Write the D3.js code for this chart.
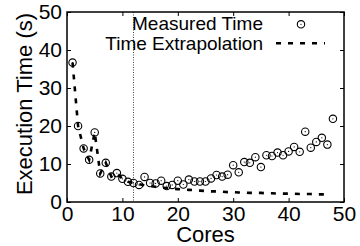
<!DOCTYPE html>
<html><head><meta charset="utf-8">
<script src="https://cdn.jsdelivr.net/npm/d3@7"></script>
<style>
html,body{margin:0;padding:0;background:#fff;}
svg{display:block;font-family:"Liberation Sans",Arial,sans-serif;}
</style></head>
<body>
<svg id="chart" width="360" height="246"></svg>
<script>
const measuredCores = d3.range(1, 49);
const measuredTime = [36.7,20.0,14.1,11.1,18.3,7.5,10.3,6.7,7.6,6.1,5.3,5.0,
  4.5,6.6,5.0,4.9,5.6,4.2,4.5,5.6,4.6,5.9,5.4,5.4,5.4,6.2,7.1,6.7,7.2,9.7,
  7.8,10.5,10.3,11.8,9.2,12.3,12.1,13.0,12.3,13.3,14.5,13.2,18.5,14.3,15.8,16.9,15.1,21.9];
const extrapCores = d3.range(1, 48);
const extrapTime = [36.7,20.0,14.1,11.1,18.3,7.5,10.3,6.7,7.6,6.1,5.3,5.0,
  4.7,4.4,4.2,4.0,3.8,3.7,3.5,3.4,3.3,3.2,3.1,3.0,2.9,2.8,2.8,2.7,2.6,2.6,
  2.5,2.5,2.4,2.4,2.4,2.3,2.3,2.2,2.2,2.2,2.2,2.1,2.1,2.1,2.0,2.0,2.0];
const xTicks = [0,10,20,30,40,50];
const yTicks = [0,10,20,30,40,50];
const markerCore = 12;

const L = 67, R = 344, T = 12, B = 202;
const svg = d3.select("#chart");
const x = d3.scaleLinear().domain([0,50]).range([L,R]);
const y = d3.scaleLinear().domain([0,50]).range([B,T]);

// vertical dotted marker
svg.append("line").attr("x1", x(markerCore)).attr("x2", x(markerCore))
  .attr("y1", T).attr("y2", B).attr("stroke", "#444").attr("stroke-width", 1)
  .attr("stroke-dasharray", "1,1.5");

// extrapolation dashed line
svg.append("path")
  .datum(extrapCores.map((c,i)=>[c, extrapTime[i]]))
  .attr("fill","none").attr("stroke","#000").attr("stroke-width",2.6)
  .attr("stroke-dasharray","5,7")
  .attr("d", d3.line().x(d=>x(d[0])).y(d=>y(d[1])));

// measured points
const pts = svg.append("g");
measuredCores.forEach((c,i)=>{
  pts.append("circle").attr("cx", x(c)).attr("cy", y(measuredTime[i])).attr("r", 3.7)
    .attr("fill","none").attr("stroke","#000").attr("stroke-width",1.1);
  pts.append("circle").attr("cx", x(c)).attr("cy", y(measuredTime[i])).attr("r", 0.6)
    .attr("fill","#000");
});

// axes
const fs = "21px";
const gx = svg.append("g").attr("transform",`translate(0,${B})`)
  .call(d3.axisBottom(x).tickValues(xTicks).tickSize(-4).tickPadding(4));
const gxt = svg.append("g").attr("transform",`translate(0,${T})`)
  .call(d3.axisTop(x).tickValues(xTicks).tickSize(-4).tickFormat(""));
const gy = svg.append("g").attr("transform",`translate(${L},0)`)
  .call(d3.axisLeft(y).tickValues(yTicks).tickSize(-4).tickPadding(5));
const gyr = svg.append("g").attr("transform",`translate(${R},0)`)
  .call(d3.axisRight(y).tickValues(yTicks).tickSize(-4).tickFormat(""));
[gx,gxt,gy,gyr].forEach(g=>{
  g.select(".domain").remove();
  g.selectAll(".tick line").attr("stroke","#000").attr("stroke-width",1);
  g.selectAll("text").attr("font-size",fs).attr("fill","#000")
    .attr("font-family",'"Liberation Sans",Arial,sans-serif');
});

// frame
svg.append("rect").attr("x",L).attr("y",T).attr("width",R-L).attr("height",B-T)
  .attr("fill","none").attr("stroke","#000").attr("stroke-width",1.5);

// axis titles
svg.append("text").attr("x",(L+R)/2).attr("y",242).attr("text-anchor","middle")
  .attr("font-size","22px").text("Cores");
svg.append("text").attr("transform",`translate(31.5,${(T+B)/2 - 3}) rotate(-90)`)
  .attr("text-anchor","middle").attr("font-size","22px").text("Execution Time (s)");

// legend
svg.append("text").attr("x",263).attr("y",30).attr("text-anchor","end")
  .attr("font-size","19px").text("Measured Time");
svg.append("circle").attr("cx",301).attr("cy",24.3).attr("r",3.7)
  .attr("fill","none").attr("stroke","#000").attr("stroke-width",1.1);
svg.append("circle").attr("cx",301).attr("cy",24.3).attr("r",0.6).attr("fill","#000");
svg.append("text").attr("x",263).attr("y",50).attr("text-anchor","end")
  .attr("font-size","19px").text("Time Extrapolation");
svg.append("line").attr("x1",276).attr("x2",325).attr("y1",43.3).attr("y2",43.3)
  .attr("stroke","#000").attr("stroke-width",2.6).attr("stroke-dasharray","5,7");
</script>
</body></html>
